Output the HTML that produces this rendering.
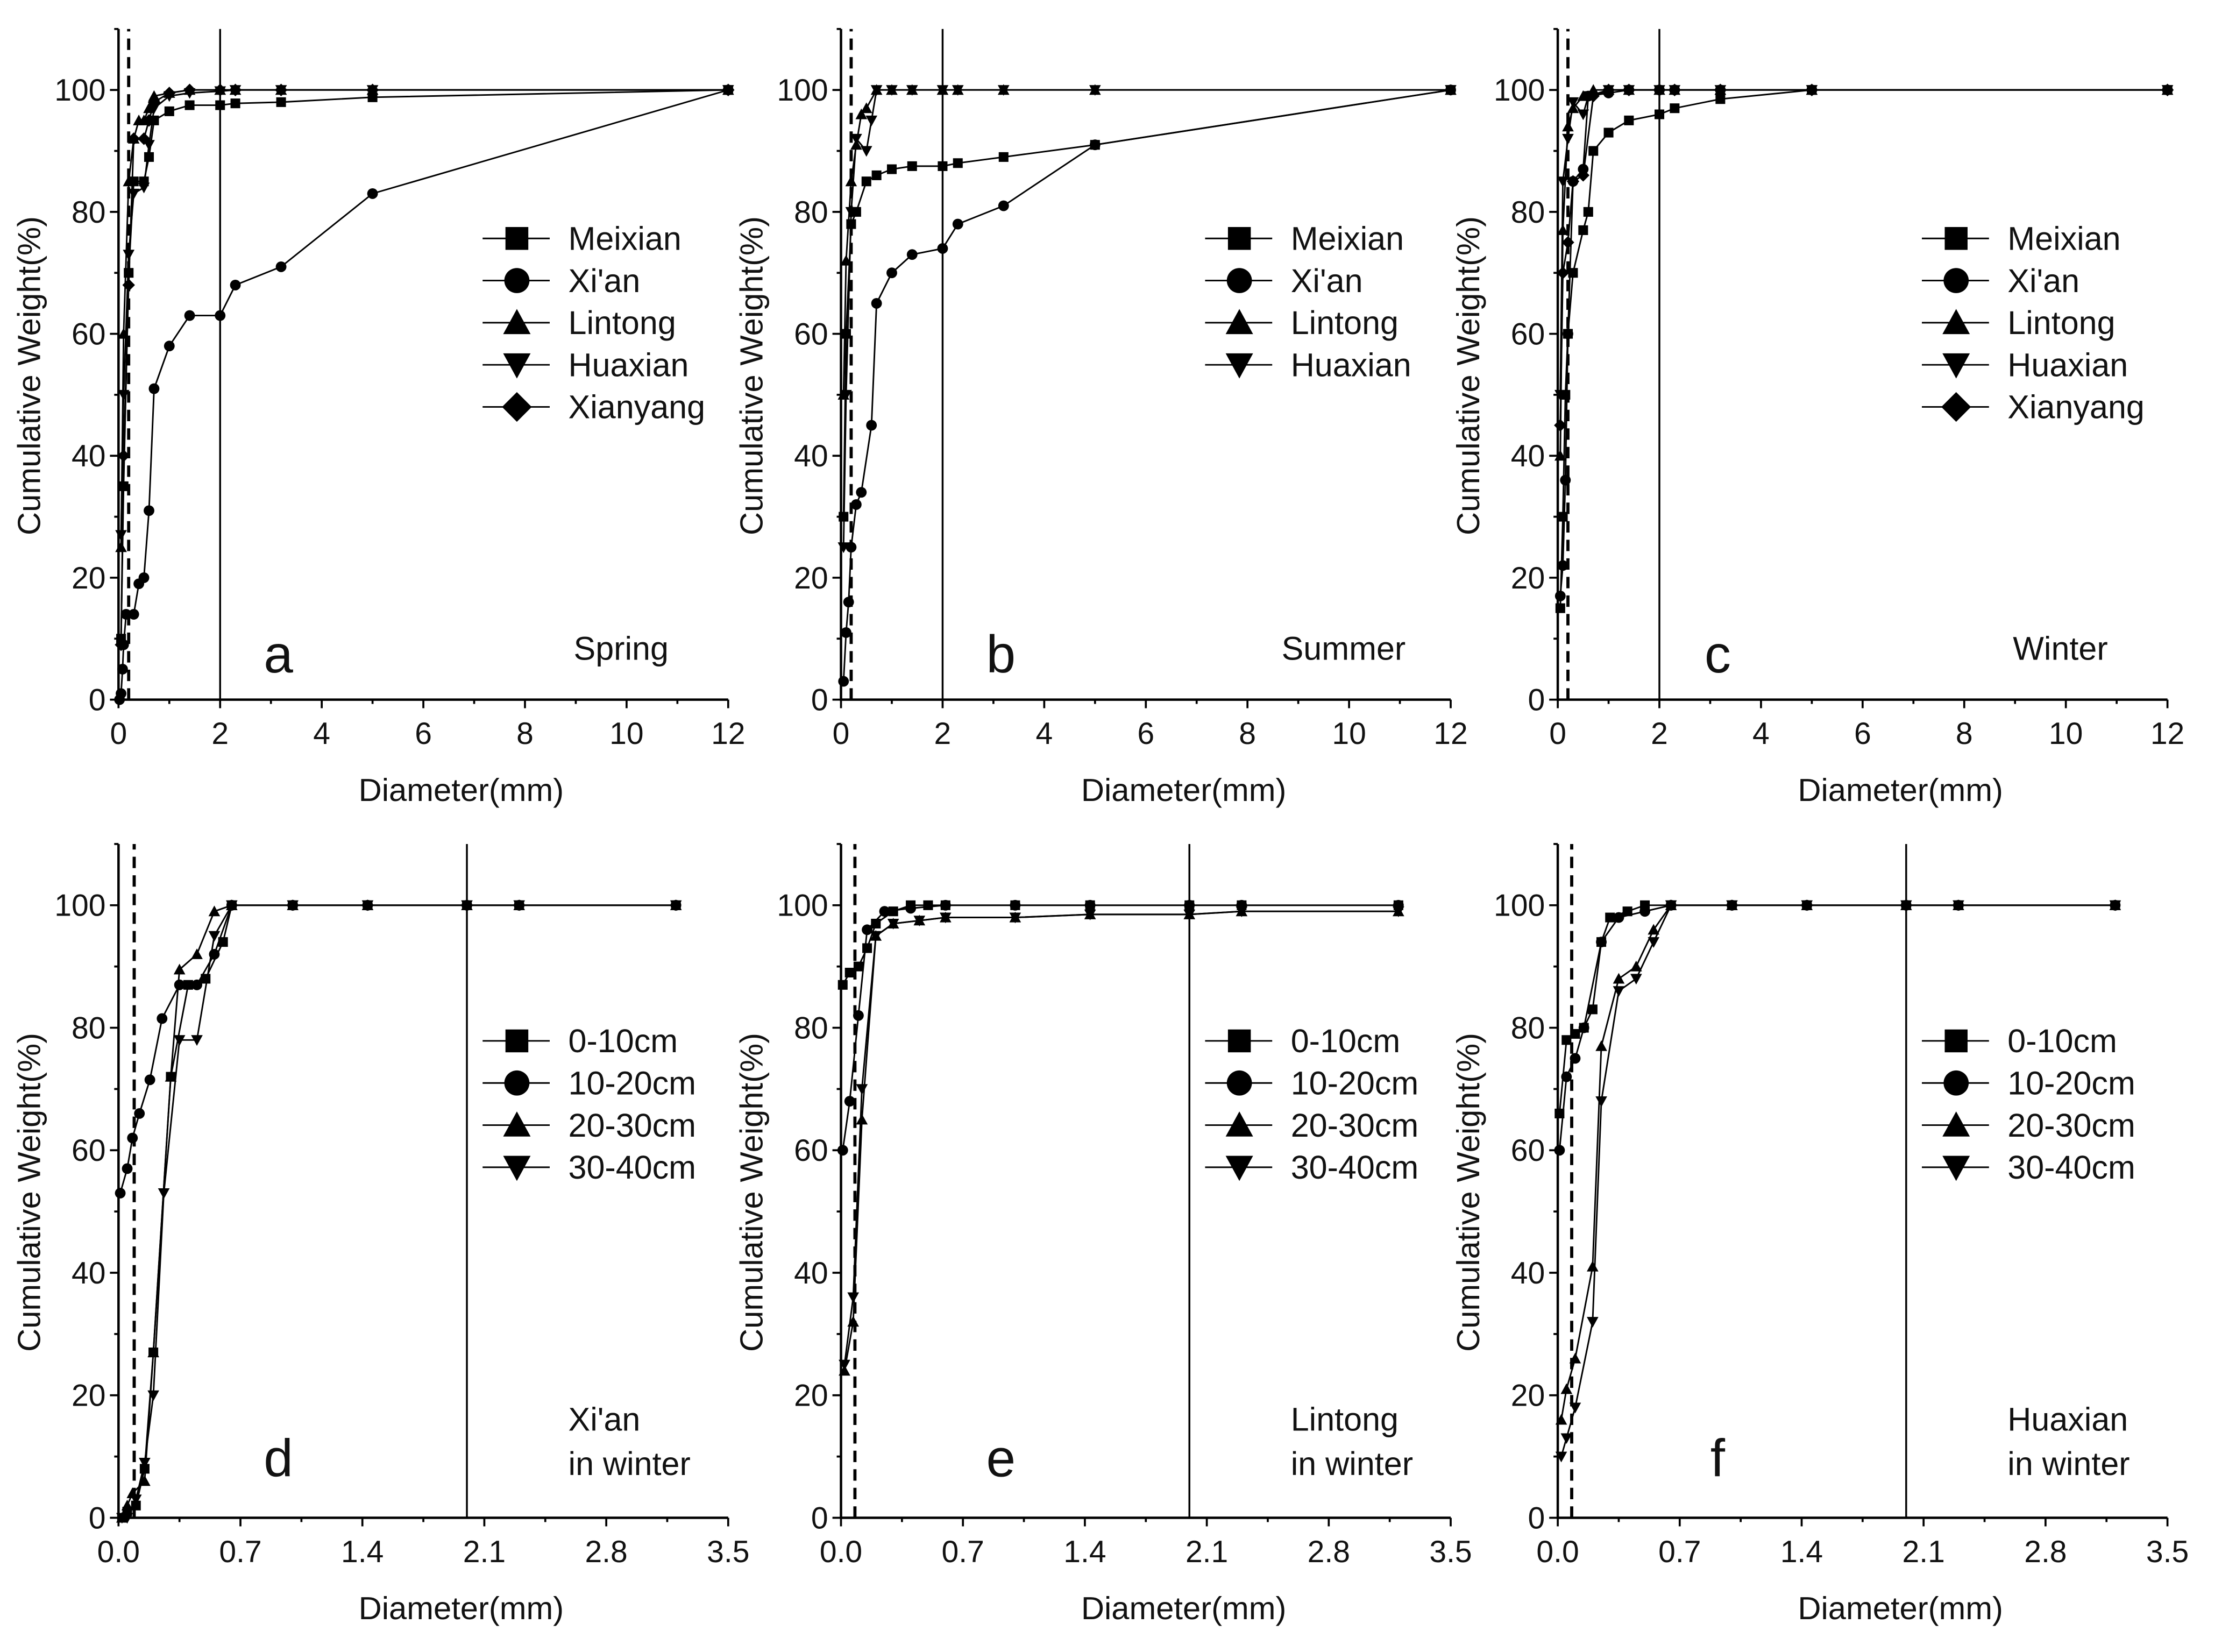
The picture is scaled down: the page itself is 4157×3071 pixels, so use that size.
<!DOCTYPE html>
<html><head><meta charset="utf-8"><style>
html,body{margin:0;padding:0;background:#fff}
svg{display:block}
text{font-family:"Liberation Sans",Arial,sans-serif;fill:#111}
</style></head><body>
<svg id="fig" width="4157" height="3071" viewBox="0 0 1566 1157" preserveAspectRatio="none" xmlns="http://www.w3.org/2000/svg"></svg>
<script>
// ---- data ----
const panelIds = ['a','b','c','d','e','f'];
const seasonLabels = ['Spring','Summer','Winter','Xi\'an|in winter','Lintong|in winter','Huaxian|in winter'];
const topSeriesNames = ['Meixian','Xi\'an','Lintong','Huaxian','Xianyang'];
const topSeriesNamesB = ['Meixian','Xi\'an','Lintong','Huaxian'];
const depthSeriesNames = ['0-10cm','10-20cm','20-30cm','30-40cm'];
const topXTicks = [0,2,4,6,8,10,12];
const botXTicks = ['0.0','0.7','1.4','2.1','2.8','3.5'];
const yTicks = [0,20,40,60,80,100];
const dashedX = [0.2,0.2,0.2,0.09,0.08,0.08];

const aMeixian = [[0.05,10],[0.1,35],[0.2,70],[0.3,85],[0.5,85],[0.6,89],[0.7,95],[1,96.5],[1.4,97.5],[2,97.5],[2.3,97.8],[3.2,98],[5,98.8],[12,100]];
const aXian = [[0.02,0],[0.05,1],[0.08,5],[0.1,9],[0.15,14],[0.3,14],[0.4,19],[0.5,20],[0.6,31],[0.7,51],[1,58],[1.4,63],[2,63],[2.3,68],[3.2,71],[5,83],[12,100]];
const aLintong = [[0.05,25],[0.1,60],[0.2,85],[0.3,92],[0.4,95],[0.5,95],[0.6,97],[0.7,99],[1,99.5],[1.4,100],[2,100],[2.3,100],[3.2,100],[5,100],[12,100]];
const aHuaxian = [[0.05,27],[0.1,50],[0.2,73],[0.3,83],[0.5,84],[0.6,91],[0.7,97],[1,99],[1.4,99.5],[2,99.8],[2.3,100],[3.2,100],[5,100],[12,100]];
const aXianyang = [[0.05,9],[0.1,40],[0.2,68],[0.3,92],[0.5,92],[0.6,95],[0.7,98],[1,99.5],[1.4,100],[2,100],[2.3,100],[3.2,100],[5,100],[12,100]];

const bMeixian = [[0.05,30],[0.1,60],[0.2,78],[0.3,80],[0.5,85],[0.7,86],[1,87],[1.4,87.5],[2,87.5],[2.3,88],[3.2,89],[5,91],[12,100]];
const bXian = [[0.05,3],[0.1,11],[0.15,16],[0.2,25],[0.3,32],[0.4,34],[0.6,45],[0.7,65],[1,70],[1.4,73],[2,74],[2.3,78],[3.2,81],[5,91],[12,100]];
const bLintong = [[0.05,50],[0.1,72],[0.2,85],[0.3,91],[0.4,96],[0.5,97],[0.7,100],[1,100],[1.4,100],[2,100],[2.3,100],[3.2,100],[5,100],[12,100]];
const bHuaxian = [[0.05,25],[0.1,50],[0.2,80],[0.3,92],[0.5,90],[0.6,95],[0.7,100],[1,100],[1.4,100],[2,100],[2.3,100],[3.2,100],[5,100],[12,100]];

const cMeixian = [[0.05,15],[0.1,30],[0.15,50],[0.2,60],[0.3,70],[0.5,77],[0.6,80],[0.7,90],[1,93],[1.4,95],[2,96],[2.3,97],[3.2,98.5],[5,100],[12,100]];
const cXian = [[0.05,17],[0.1,22],[0.15,36],[0.2,60],[0.3,85],[0.5,87],[0.6,99],[1,99.5],[1.4,100],[2,100],[2.3,100],[3.2,100],[5,100],[12,100]];
const cLintong = [[0.05,40],[0.1,77],[0.2,94],[0.3,97],[0.5,99],[0.7,100],[1,100],[1.4,100],[2,100],[2.3,100],[3.2,100],[5,100],[12,100]];
const cHuaxian = [[0.05,50],[0.1,85],[0.2,92],[0.3,98],[0.5,96],[0.6,99],[1,100],[1.4,100],[2,100],[2.3,100],[3.2,100],[5,100],[12,100]];
const cXianyang = [[0.05,45],[0.1,70],[0.2,75],[0.3,85],[0.5,86],[0.7,99],[1,100],[1.4,100],[2,100],[2.3,100],[3.2,100],[5,100],[12,100]];

const d0 = [[0.02,0],[0.05,1],[0.1,2],[0.15,8],[0.2,27],[0.3,72],[0.4,87],[0.5,88],[0.6,94],[0.65,100],[1,100],[1.43,100],[2,100],[2.3,100],[3.2,100]];
const d1 = [[0.01,53],[0.05,57],[0.08,62],[0.12,66],[0.18,71.5],[0.25,81.5],[0.35,87],[0.45,87],[0.55,92],[0.65,100],[1,100],[1.43,100],[2,100],[2.3,100],[3.2,100]];
const d2 = [[0.02,0],[0.05,2],[0.08,4],[0.15,6],[0.2,27],[0.3,72],[0.35,89.5],[0.45,92],[0.55,99],[0.65,100],[1,100],[1.43,100],[2,100],[2.3,100],[3.2,100]];
const d3 = [[0.02,0],[0.05,0],[0.1,3],[0.15,9],[0.2,20],[0.26,53],[0.35,78],[0.45,78],[0.55,95],[0.65,100],[1,100],[1.43,100],[2,100],[2.3,100],[3.2,100]];

const e0 = [[0.01,87],[0.05,89],[0.1,90],[0.15,93],[0.2,97],[0.3,99],[0.4,100],[0.5,100],[0.6,100],[1,100],[1.43,100],[2,100],[2.3,100],[3.2,100]];
const e1 = [[0.01,60],[0.05,68],[0.1,82],[0.15,96],[0.25,99],[0.4,99.5],[0.6,100],[1,100],[1.43,100],[2,100],[2.3,100],[3.2,100]];
const e2 = [[0.02,24],[0.07,32],[0.12,65],[0.2,95],[0.3,97],[0.45,97.5],[0.6,98],[1,98],[1.43,98.5],[2,98.5],[2.3,99],[3.2,99]];
const e3 = [[0.02,25],[0.07,36],[0.12,70],[0.2,95],[0.3,97],[0.45,97.5],[0.6,98],[1,98],[1.43,98.5],[2,98.5],[2.3,99],[3.2,99]];

const f0 = [[0.01,66],[0.05,78],[0.1,79],[0.15,80],[0.2,83],[0.25,94],[0.3,98],[0.4,99],[0.5,100],[0.65,100],[1,100],[1.43,100],[2,100],[2.3,100],[3.2,100]];
const f1 = [[0.01,60],[0.05,72],[0.1,75],[0.15,80],[0.25,94],[0.35,98],[0.5,99],[0.65,100],[1,100],[1.43,100],[2,100],[2.3,100],[3.2,100]];
const f2 = [[0.02,16],[0.05,21],[0.1,26],[0.2,41],[0.25,77],[0.35,88],[0.45,90],[0.55,96],[0.65,100],[1,100],[1.43,100],[2,100],[2.3,100],[3.2,100]];
const f3 = [[0.02,10],[0.05,13],[0.1,18],[0.2,32],[0.25,68],[0.35,86],[0.45,88],[0.55,94],[0.65,100],[1,100],[1.43,100],[2,100],[2.3,100],[3.2,100]];

const panelSeries = [
  [aMeixian,aXian,aLintong,aHuaxian,aXianyang],
  [bMeixian,bXian,bLintong,bHuaxian],
  [cMeixian,cXian,cLintong,cHuaxian,cXianyang],
  [d0,d1,d2,d3],[e0,e1,e2,e3],[f0,f1,f2,f3]
];
const panelNames = [topSeriesNames,topSeriesNamesB,topSeriesNames,depthSeriesNames,depthSeriesNames,depthSeriesNames];
const markerShapes = ['square','circle','up','down','diamond'];

// ---- drawing ----
const NS='http://www.w3.org/2000/svg';
const svg=document.getElementById('fig');
function mk(tag,attrs,parent){const e=document.createElementNS(NS,tag);for(const k in attrs)e.setAttribute(k,attrs[k]);(parent||svg).appendChild(e);return e;}
function marker(shape,cx,cy,r,parent){
  let el;
  if(shape==='square') el=mk('rect',{x:cx-r,y:cy-r,width:2*r,height:2*r,fill:'#000'},parent);
  else if(shape==='circle') el=mk('circle',{cx:cx,cy:cy,r:r*1.1,fill:'#000'},parent);
  else if(shape==='up') el=mk('polygon',{points:`${cx-r*1.2},${cy+r} ${cx+r*1.2},${cy+r} ${cx},${cy-r*1.2}`,fill:'#000'},parent);
  else if(shape==='down') el=mk('polygon',{points:`${cx-r*1.2},${cy-r} ${cx+r*1.2},${cy-r} ${cx},${cy+r*1.2}`,fill:'#000'},parent);
  else el=mk('polygon',{points:`${cx-r*1.3},${cy} ${cx},${cy-r*1.3} ${cx+r*1.3},${cy} ${cx},${cy+r*1.3}`,fill:'#000'},parent);
  return el;
}
const lefts=[83,589,1091];
for(let p=0;p<6;p++){
  const top=p<3;
  const x0=lefts[p%3], x1=x0+427;
  const y0=top?490:1063, y100=top?63:634;
  const xmax=top?12:3.5;
  const X=v=>x0+(v/xmax)*(x1-x0);
  const Y=v=>y0+(v/100)*(y100-y0);
  const yTop=Y(110);
  const g=mk('g',{});
  
  
  const ax=mk('path',{d:`M${x0},${yTop} L${x0},${y0} L${x1},${y0}`,stroke:'#000','stroke-width':1.7,fill:'none'},g);
  
  
  for(let v=0;v<=110;v+=10){
    const major=v%20===0;
    mk('line',{x1:x0-(major?6:3),x2:x0,y1:Y(v),y2:Y(v),stroke:'#000','stroke-width':1.4},g);
  }
  yTicks.forEach(v=>{
    const t=mk('text',{x:x0-9,y:Y(v)+7.5,'text-anchor':'end','font-size':21.5},g);t.textContent=v;
    
    
  });
  const xt=top?topXTicks:botXTicks;
  const step=top?1:0.35;
  const nMin=Math.round(xmax/step);
  for(let i=0;i<=nMin;i++){
    const v=i*step, major=i%2===0;
    mk('line',{x1:X(v),x2:X(v),y1:y0,y2:y0+(major?6:3),stroke:'#000','stroke-width':1.4},g);
  }
  xt.forEach(v=>{
    const t=mk('text',{x:X(+v),y:y0+31,'text-anchor':'middle','font-size':21.5},g);t.textContent=v;
    
    
  });
  const xl=mk('text',{x:x0+240,y:y0+71,'text-anchor':'middle','font-size':22.5},g);xl.textContent='Diameter(mm)';
  
  
  const ylx=x0-55, yly=(y0+yTop)/2+8;
  const yl=mk('text',{x:ylx,y:yly,'text-anchor':'middle','font-size':22.5,transform:`rotate(-90 ${ylx} ${yly})`},g);yl.textContent='Cumulative Weight(%)';
  
  
  const vl=mk('line',{x1:X(2),x2:X(2),y1:y0,y2:yTop,stroke:'#000','stroke-width':1.3},g);
  
  
  const dl=mk('line',{x1:X(dashedX[p]),x2:X(dashedX[p]),y1:y0,y2:yTop,stroke:'#000','stroke-width':2.2,'stroke-dasharray':'8,5'},g);
  
  
  const names=panelNames[p];
  panelSeries[p].forEach((s,si)=>{
    const sg=mk('g',{},g);
    
    
    mk('polyline',{points:s.map(d=>X(d[0])+','+Y(d[1])).join(' '),fill:'none',stroke:'#000','stroke-width':1.1},sg);
    s.forEach(d=>{const m=marker(markerShapes[si],X(d[0]),Y(d[1]),3.4,sg);
      
      });
  });
  const lg=mk('g',{},g);
  
  
  const ly0=top?167:729, lx=x0+255;
  names.forEach((n,i)=>{
    const ly=ly0+i*29.5;
    const eg=mk('g',{},lg);
    
    
    mk('line',{x1:lx,x2:lx+47,y1:ly,y2:ly,stroke:'#000','stroke-width':1.1},eg);
    marker(markerShapes[i],lx+24,ly,8,eg);
    const t=mk('text',{x:lx+60,y:ly+8,'font-size':23},eg);t.textContent=n;
  });
  const pl=mk('text',{x:x0+112,y:top?471:1034,'text-anchor':'middle','font-size':37},g);pl.textContent=panelIds[p];
  
  
  const parts=seasonLabels[p].split('|');
  if(top){
    const st=mk('text',{x:x0+352,y:462,'text-anchor':'middle','font-size':23},g);st.textContent=parts[0];
    
    
  } else {
    parts.forEach((s,i)=>{const st=mk('text',{x:x0+315,y:1002+i*31,'font-size':23},g);st.textContent=s;
      
      });
  }
}
</script>
</body></html>
